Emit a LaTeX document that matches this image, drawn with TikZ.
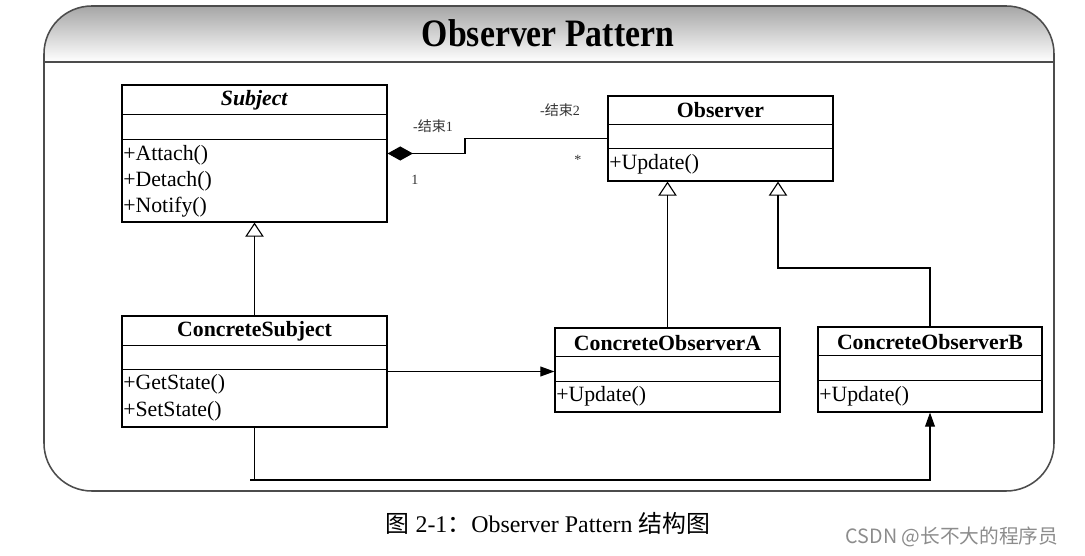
\documentclass[tikz,border=0pt]{standalone}
\usepackage{fontspec}
\setmainfont{Liberation Serif}
\newfontfamily\cjk{Noto Sans CJK SC}
\usetikzlibrary{arrows.meta}

\tikzset{
  classbox/.style={draw, line width=0.8pt, inner sep=0pt},
  classname/.style={font=\fontsize{15.5}{18}\selectfont\bfseries},
  member/.style={anchor=west, inner sep=0pt, font=\fontsize{15.5}{18}\selectfont},
  rolelabel/.style={font=\fontsize{10}{12}\selectfont, text=black!80},
  inherit/.style={line width=0.8pt, -{Triangle[open, width=13pt, length=10pt]}},
  assoc/.style={line width=0.8pt, -{Triangle[width=7pt, length=10pt]}},
}

\begin{document}
\begin{tikzpicture}[x=0.025cm, y=-0.025cm]
\useasboundingbox (0,0) rectangle (1085,556);

% frame with shaded header
\begin{scope}
\clip[rounded corners=34pt] (44,250) -- (44,6) -- (1054,6) -- (1054,491) -- (44,491) -- cycle;
\shade[top color=black!35, bottom color=white] (44,6) rectangle (1054,62);
\end{scope}
\draw[line width=1.1pt, black!70, rounded corners=34pt] (44,250) -- (44,6) -- (1054,6) -- (1054,491) -- (44,491) -- cycle;
\draw[line width=1.1pt, black!70] (44,62) -- (1054,62);
\node[font=\fontsize{24}{28}\selectfont\bfseries] (title) at (548,33) {\scalebox{1}[1.15]{Observer Pattern}};

% classes
\node[classbox, minimum width=6.625cm, minimum height=3.425cm] (subject) at (254.5,153.5) {};
\draw[line width=0.8pt] (subject.north west) ++(0,30) -- ++(265,0);
\draw[line width=0.8pt] (subject.north west) ++(0,55) -- ++(265,0);
\node[classname] (subjectname) at (254.5,100) {\textit{Subject}};
\node[member] (attach) at (123,155) {+Attach()};
\node[member] (detach) at (123,181) {+Detach()};
\node[member] (notify) at (123,207) {+Notify()};

\node[classbox, minimum width=5.625cm, minimum height=2.125cm] (observer) at (720.5,138.5) {};
\draw[line width=0.8pt] (observer.north west) ++(0,29) -- ++(225,0);
\draw[line width=0.8pt] (observer.north west) ++(0,53) -- ++(225,0);
\node[classname] (observername) at (720.5,110) {Observer};
\node[member] (update) at (609,164) {+Update()};

\node[classbox, minimum width=6.625cm, minimum height=2.775cm] (csubject) at (254.5,371.5) {};
\draw[line width=0.8pt] (csubject.north west) ++(0,30) -- ++(265,0);
\draw[line width=0.8pt] (csubject.north west) ++(0,54) -- ++(265,0);
\node[classname] (csubjectname) at (254.5,331) {ConcreteSubject};
\node[member] (getstate) at (123,384) {+GetState()};
\node[member] (setstate) at (123,411) {+SetState()};

\node[classbox, minimum width=5.625cm, minimum height=2.1cm] (coa) at (667.5,370) {};
\draw[line width=0.8pt] (coa.north west) ++(0,29) -- ++(225,0);
\draw[line width=0.8pt] (coa.north west) ++(0,54) -- ++(225,0);
\node[classname] (coaname) at (667.5,343) {ConcreteObserverA};
\node[member] (updatea) at (556,396) {+Update()};

\node[classbox, minimum width=5.6cm, minimum height=2.125cm] (cob) at (930,369.5) {};
\draw[line width=0.8pt] (cob.north west) ++(0,29) -- ++(224,0);
\draw[line width=0.8pt] (cob.north west) ++(0,54) -- ++(224,0);
\node[classname] (cobname) at (930,342) {ConcreteObserverB};
\node[member] (updateb) at (819,396) {+Update()};

% connectors
\coordinate (bend) at (465,146);
\draw[line width=0.8pt, {Diamond[length=18pt, width=10pt]}-] (subject.east) -| (bend) |- (observer.west);
\node[rolelabel] (role1) at (433,126) {-{\cjk 结束}1};
\node[rolelabel] (role2) at (560,110) {-{\cjk 结束}2};
\node[rolelabel] (mult1) at (415,180) {1};
\node[rolelabel] (mult2) at (578,160) {*};

\draw[inherit] (csubject.north) -- (subject.south);
\draw[inherit] (coa.north) -- (coa.north |- observer.south);
\coordinate (hookB) at (778,268);
\draw[inherit] (cob.north) |- (hookB) -- (hookB |- observer.south);

\draw[assoc] (csubject.east) -- (csubject.east -| coa.west);
\coordinate (lowline) at (250,480);
\draw[line width=0.8pt] (csubject.south) -- (csubject.south |- lowline);
\draw[assoc] (lowline) -| (cob.south);

% caption
\node[font=\fontsize{17}{20}\selectfont] (caption) at (548,523) {{\cjk 图} 2-1{\cjk ：}Observer Pattern {\cjk 结构图}};
\node[font=\fontsize{14}{16}\selectfont\cjk, text=black!45] (mark) at (952,537) {CSDN @长不大的程序员};
\end{tikzpicture}
\end{document}
